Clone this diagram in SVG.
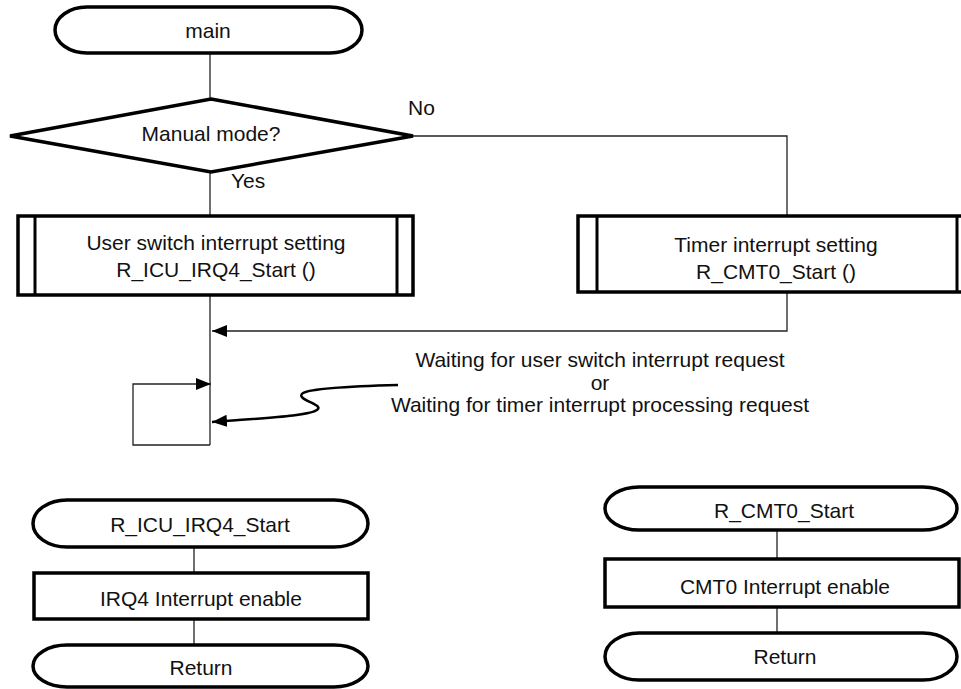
<svg xmlns="http://www.w3.org/2000/svg" width="961" height="689" viewBox="0 0 961 689">
<style>
  .shape { fill: #fff; stroke: #000; stroke-width: 3.5; }
  .inner { fill: none; stroke: #000; stroke-width: 3; }
  .conn { fill: none; stroke: #222; stroke-width: 1.3; }
  .wave { fill: none; stroke: #000; stroke-width: 2.5; }
  text { font-family: "Liberation Sans", Arial, sans-serif; font-size: 21px; fill: #111; }
  .c { text-anchor: middle; }
</style>
<defs>
  <marker id="arr" markerUnits="userSpaceOnUse" markerWidth="16" markerHeight="14" refX="15" refY="6" orient="auto">
    <path d="M0,0 L15,6 L0,12 Z" fill="#000"/>
  </marker>
</defs>
<rect width="961" height="689" fill="#fff"/>

<g id="connectors">
  <path class="conn" d="M210,53 V99"/>
  <path class="conn" d="M210,172 V216"/>
  <path class="conn" d="M413,136 H787 V216"/>
  <path class="conn" d="M787,292 V331 H212" marker-end="url(#arr)"/>
  <path class="conn" d="M210,295 V445"/>
  <path class="conn" d="M210,445 H133 V384 H211" marker-end="url(#arr)"/>
  <path class="wave" d="M398,385 C360,386 312,388 303,393 C294,399 322,404 318,409 C313,416 262,418 212,422" marker-end="url(#arr)"/>
  <path class="conn" d="M194,547 V573"/>
  <path class="conn" d="M194,619 V645"/>
  <path class="conn" d="M777,530 V559"/>
  <path class="conn" d="M777,607 V633"/>
</g>

<g id="main">
  <rect class="shape" x="55" y="7" width="307" height="46" rx="32" ry="23"/>
  <text class="c" x="208" y="38">main</text>
</g>

<g id="decision">
  <polygon class="shape" points="211,99 413,136 211,172 10,136"/>
  <text class="c" x="211" y="141">Manual mode?</text>
  <text x="408" y="115">No</text>
  <text x="231" y="188">Yes</text>
</g>

<g id="user-switch-setting">
  <rect class="shape" x="18" y="216" width="395" height="79"/>
  <line class="inner" x1="35" y1="216" x2="35" y2="295"/>
  <line class="inner" x1="397" y1="216" x2="397" y2="295"/>
  <text class="c" x="216" y="250">User switch interrupt setting</text>
  <text class="c" x="216" y="277">R_ICU_IRQ4_Start ()</text>
</g>

<g id="timer-setting">
  <rect class="shape" x="578" y="216" width="400" height="76"/>
  <line class="inner" x1="597" y1="216" x2="597" y2="292"/>
  <line class="inner" x1="957" y1="216" x2="957" y2="292"/>
  <text class="c" x="776" y="252" fill="#333">Timer interrupt setting</text>
  <text class="c" x="776" y="279">R_CMT0_Start ()</text>
</g>

<g id="wait-label">
  <text class="c" x="600" y="367">Waiting for user switch interrupt request</text>
  <text class="c" x="600" y="390">or</text>
  <text class="c" x="600" y="412">Waiting for timer interrupt processing request</text>
</g>

<g id="icu-start">
  <rect class="shape" x="33" y="500" width="335" height="47" rx="34" ry="23.5"/>
  <text class="c" x="200" y="532">R_ICU_IRQ4_Start</text>
</g>
<g id="irq4-enable">
  <rect class="shape" x="34" y="573" width="334" height="46"/>
  <text class="c" x="201" y="606">IRQ4 Interrupt enable</text>
</g>
<g id="icu-return">
  <rect class="shape" x="33" y="645" width="335" height="42" rx="34" ry="21"/>
  <text class="c" x="201" y="675">Return</text>
</g>

<g id="cmt-start">
  <rect class="shape" x="605" y="487" width="352" height="43" rx="34" ry="21.5"/>
  <text class="c" x="784" y="518">R_CMT0_Start</text>
</g>
<g id="cmt0-enable">
  <rect class="shape" x="605" y="559" width="354" height="48"/>
  <text class="c" x="785" y="594">CMT0 Interrupt enable</text>
</g>
<g id="cmt-return">
  <rect class="shape" x="605" y="633" width="352" height="47" rx="34" ry="23.5"/>
  <text class="c" x="785" y="664">Return</text>
</g>
</svg>
